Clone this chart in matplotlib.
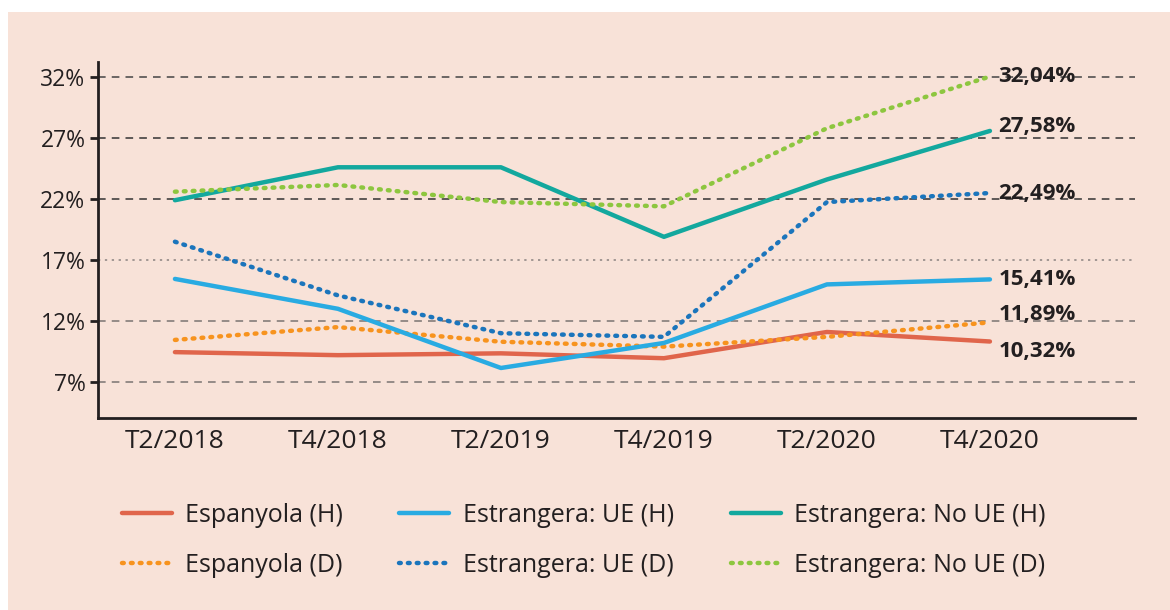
import matplotlib.pyplot as plt
from matplotlib.patches import Rectangle

plt.rcParams['font.family'] = ['Open Sans', 'DejaVu Sans']

periods = ['T2/2018', 'T4/2018', 'T2/2019', 'T4/2019', 'T2/2020', 'T4/2020']

espanyola_h = [9.45, 9.2, 9.35, 8.95, 11.1, 10.32]
ue_h = [15.45, 13.0, 8.15, 10.2, 15.0, 15.41]
no_ue_h = [21.9, 24.6, 24.6, 18.9, 23.6, 27.58]
espanyola_d = [10.45, 11.5, 10.3, 9.9, 10.7, 11.89]
ue_d = [18.5, 14.1, 11.0, 10.7, 21.75, 22.49]
no_ue_d = [22.6, 23.15, 21.75, 21.4, 27.8, 32.04]

yticks = [7, 12, 17, 22, 27, 32]

ink = '#231f20'
bg = '#f8e2d8'

fig = plt.figure(figsize=(11.7, 6.1), dpi=100)
fig.patches.append(Rectangle((8 / 1170, 0), 1, 1 - 12 / 610, transform=fig.transFigure,
                             facecolor=bg, edgecolor='none', zorder=-10))

ax = fig.add_axes([98 / 1170, 1 - 418 / 610, (1135 - 98) / 1170, (418 - 62) / 610])
ax.set_facecolor('none')

x = list(range(len(periods)))

# gridlines
grid_styles = {7: ('#7a7471', (0, (5, 4))), 12: ('#7a7471', (0, (5, 4))),
               17: ('#8a8280', (0, (1.5, 3))), 22: ('#333', (0, (5, 4))),
               27: ('#333', (0, (5, 4))), 32: ('#444', (0, (5, 4)))}
for v in yticks:
    c, ls = grid_styles[v]
    ax.axhline(v, color=c, lw=1.1, linestyle=ls, zorder=1)

dot = (0, (0.4, 1.6))
series = [
    ('Espanyola (H)', espanyola_h, '#e0654b', '-'),
    ('Espanyola (D)', espanyola_d, '#f7931e', dot),
    ('Estrangera: UE (H)', ue_h, '#29abe2', '-'),
    ('Estrangera: UE (D)', ue_d, '#1b75bc', dot),
    ('Estrangera: No UE (H)', no_ue_h, '#13a89e', '-'),
    ('Estrangera: No UE (D)', no_ue_d, '#8dc63f', dot),
]
handles = []
for name, vals, col, ls in series:
    h, = ax.plot(x, vals, color=col, lw=3.2, linestyle=ls, label=name,
                 dash_capstyle='round', solid_capstyle='round', zorder=3)
    handles.append(h)

# end labels
offsets = {'Espanyola (H)': -7, 'Espanyola (D)': 6, 'Estrangera: No UE (H)': 3}
for name, vals, col, ls in series:
    ax.annotate(f'{vals[-1]:.2f}%'.replace('.', ','), (x[-1], vals[-1]),
                xytext=(6, offsets.get(name, 0)), textcoords='offset points',
                ha='left', va='center', fontsize=16, fontweight='bold', color=ink)

ax.set_xlim(-0.472, 5.89)
ax.set_ylim(4.05, 33.23)
ax.set_yticks(yticks)
ax.set_yticklabels([f'{v}%' for v in yticks])
ax.set_xticks(x)
ax.set_xticklabels(periods)
ax.tick_params(axis='y', length=6, width=2, color=ink, labelsize=16.5, labelcolor=ink, pad=3)
ax.tick_params(axis='x', length=0, labelsize=19, labelcolor=ink, pad=8)
for s in ['top', 'right']:
    ax.spines[s].set_visible(False)
for s in ['left', 'bottom']:
    ax.spines[s].set_linewidth(2)
    ax.spines[s].set_color(ink)

fig.legend(handles=handles, loc='upper left', bbox_to_anchor=(99 / 1170, 1 - 480 / 610),
           ncol=3, frameon=False, fontsize=18, handlelength=2.0, handletextpad=0.55,
           columnspacing=2.25, labelspacing=1.0, labelcolor=ink)

fig.savefig('out.png', dpi=100)
